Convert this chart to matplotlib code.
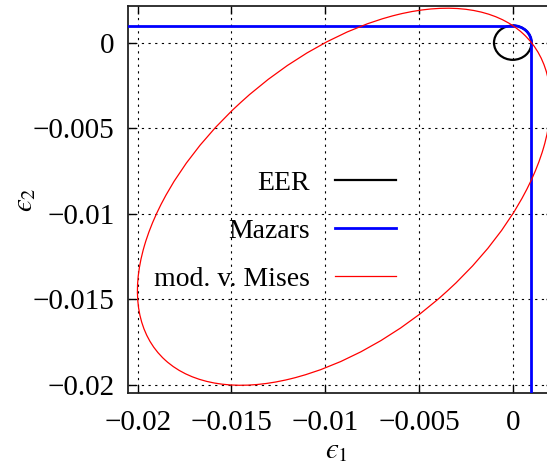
import matplotlib
matplotlib.use("Agg")
import matplotlib.pyplot as plt
from matplotlib.patches import Circle, Ellipse, Arc
from matplotlib.lines import Line2D

plt.rcParams['font.family'] = ['Liberation Serif', 'DejaVu Serif']
plt.rcParams['mathtext.fontset'] = 'stix'

# strain limits
eer_radius = 0.001          # equivalent strain (EER)
mazars_k = 0.001            # Mazars threshold
# modified von Mises (k = 10, nu = 0) ellipse in principal strain plane
mises_center = (-0.009, -0.009)
mises_width = 0.026981
mises_height = 0.015578
mises_angle = 45.0

ticks = [-0.02, -0.015, -0.01, -0.005, 0.0]
tick_labels = ['\u22120.02', '\u22120.015', '\u22120.01', '\u22120.005', '0']

fig = plt.figure(figsize=(5.47, 4.68), dpi=100)
ax = fig.add_axes([0.2346, 0.1596, 0.7782, 0.8286])
ax.set_xlim(-0.0205, 0.0022)
ax.set_ylim(-0.020485, 0.002173)

ax.grid(True, color='black', linestyle=(0, (2, 4)), linewidth=0.8)
ax.set_axisbelow(True)

# EER circle
ax.add_patch(Circle((0, 0), eer_radius, fill=False, edgecolor='black', linewidth=1.6, zorder=3))

# Mazars: straight branches + rounded corner in the tension quadrant
ax.plot([-0.03, 0], [mazars_k, mazars_k], color='#0000ff', linewidth=2.0, zorder=4)
ax.plot([mazars_k, mazars_k], [0, -0.03], color='#0000ff', linewidth=2.0, zorder=4)
ax.add_patch(Arc((0, 0), 2 * mazars_k, 2 * mazars_k, theta1=0, theta2=90,
                 edgecolor='#0000ff', linewidth=2.0, zorder=4))

# modified von Mises
ax.add_patch(Ellipse(mises_center, mises_width, mises_height, angle=mises_angle,
                     fill=False, edgecolor='#ff0000', linewidth=0.9, zorder=5))

ax.set_xticks(ticks)
ax.set_xticklabels(tick_labels)
ax.set_yticks(ticks)
ax.set_yticklabels(tick_labels)
ax.tick_params(direction='in', length=6, width=1.0, labelsize=21,
               top=True, right=True)
ax.tick_params(axis='x', pad=12)
ax.tick_params(axis='y', pad=10)
for s in ax.spines.values():
    s.set_linewidth(1.3)
    s.set_color('#222222')

ax.set_xlabel('$\u03f5_1$', fontsize=21)
ax.set_ylabel('$\u03f5_2$', fontsize=21)
ax.xaxis.set_label_coords(0.49, -0.115)
ax.yaxis.set_label_coords(-0.212, 0.5)

handles = [Line2D([], [], color='black', linewidth=1.6),
           Line2D([], [], color='#0000ff', linewidth=2.0),
           Line2D([], [], color='#ff0000', linewidth=0.9)]
fig.legend(handles, ['EER', 'Mazars', 'mod. v. Mises'], loc='center right',
           bbox_to_anchor=(0.724, 0.5064), frameon=False, markerfirst=False,
           fontsize=20, handlelength=2.2, handletextpad=0.9,
           labelspacing=0.82, borderpad=0, borderaxespad=0)

fig.savefig('out.png', dpi=100)
